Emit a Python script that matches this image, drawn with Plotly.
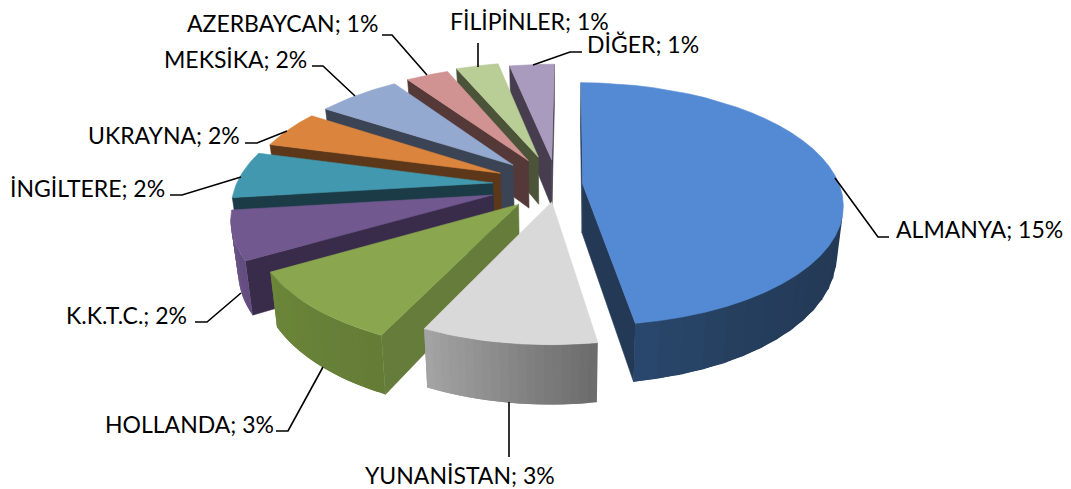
import math
import plotly.graph_objects as go

# ---- data ----
categories = ["ALMANYA", "YUNANİSTAN", "HOLLANDA", "K.K.T.C.", "İNGİLTERE",
              "UKRAYNA", "MEKSİKA", "AZERBAYCAN", "FİLİPİNLER", "DİĞER"]
values = [14.95, 3.0, 3.02, 2.04, 1.95, 1.58, 1.97, 1.0, 1.0, 1.05]

# ---- style ----
pulls = [0.10, 0.14, 0.215, 0.26, 0.25, 0.245, 0.245, 0.24, 0.255, 0.22]
radii = [0.995, 0.96, 0.98, 0.98, 0.995, 0.99, 0.99, 1.0, 1.0, 1.0]
top_colors = ["#548ad3", "#d9d9d9", "#8aa64f", "#71588f", "#4198af",
              "#db843d", "#93a9cf", "#d19392", "#b9cd96", "#a99bbd"]
cut_colors = ["#243955", "#6e6e6e", "#667c3a", "#392b4a", "#1b3c47",
              "#5c371a", "#3b4454", "#553838", "#4b5339", "#463e4f"]
arc_from = ["#2a4a70", "#a6a6a6", "#6b8639", "#6d5489", "#1b3c47",
            "#5c371a", "#3b4454", "#553838", "#4b5339", "#463e4f"]
arc_to = ["#233854", "#6c6c6c", "#657c37", "#644d80", "#1b3c47",
          "#5c371a", "#3b4454", "#553838", "#4b5339", "#463e4f"]
arc_power = [6, 1, 1, 1, 1, 1, 1, 1, 1, 1]
label_font = "Lato"
label_size = 23
START_ANGLE = 0.5

# ---- projection ----
CX, CY, R, RK, P, H, CONVERGE = 557, 185, 258, 119, 0.165, 49, 0.023


def project(gx, gy, z=0.0):
    f = 1 / (1 - P * gy)
    return CX + R * gx * f * (1 - CONVERGE * z), CY + RK * gy * f + z * H * f


def mix(a, b, t):
    ca = [int(a[i:i + 2], 16) for i in (1, 3, 5)]
    cb = [int(b[i:i + 2], 16) for i in (1, 3, 5)]
    return "rgb(%d,%d,%d)" % tuple(round(x + (y - x) * t) for x, y in zip(ca, cb))


fig = go.Figure()


def poly(pts, color, width=0.6):
    xs = [p[0] for p in pts] + [pts[0][0]]
    ys = [p[1] for p in pts] + [pts[0][1]]
    fig.add_trace(go.Scatter(x=xs, y=ys, mode="lines", fill="toself", fillcolor=color,
                             line=dict(color=color, width=width), hoverinfo="skip",
                             showlegend=False))


total = sum(values)
spans = []
acc = START_ANGLE
for v in values:
    spans.append((acc, acc + v / total * 360))
    acc += v / total * 360

for i in range(len(values) - 1, -1, -1):
    a0, a1 = spans[i]
    mid = math.radians((a0 + a1) / 2)
    ox, oy = pulls[i] * math.sin(mid), -pulls[i] * math.cos(mid)
    n = 36 if a1 - a0 > 60 else 20
    rim = []
    for k in range(n + 1):
        t = math.radians(a0 + (a1 - a0) * k / n)
        rim.append((ox + radii[i] * math.sin(t), oy - radii[i] * math.cos(t)))
    apex = (ox, oy)

    def wall(p, q, color):
        a, b = project(*p), project(*q)
        if b[0] < a[0]:
            poly([a, b, project(*q, 1), project(*p, 1)], color)

    wall(apex, rim[0], cut_colors[i])
    wall(rim[-1], apex, cut_colors[i])
    # outer wall: each strip overlaps the next one so that no seams show
    for k in range(n):
        p, q = rim[k], rim[k + 1]
        a, b = project(*p), project(*q)
        if b[0] < a[0]:
            q2 = rim[min(k + 2, n)]
            poly([a, project(*q2), project(*q2, 1), project(*p, 1)],
                 mix(arc_to[i], arc_from[i], (k / n) ** arc_power[i]), width=0)
    poly([project(*apex)] + [project(*p) for p in rim], top_colors[i])

# ---- leader lines and labels (page layout, in pixels) ----
leaders = [
    [(835, 178), (878, 237), (889, 237)],
    [(509, 402), (509, 457)],
    [(323, 367), (288, 431), (276, 431)],
    [(241, 293), (207, 322), (195, 322)],
    [(241, 177), (182, 195), (170, 195)],
    [(287, 131), (257, 143), (245, 143)],
    [(355, 96), (323, 66), (312, 66)],
    [(427, 75), (392, 35), (382, 35)],
    [(478, 67), (478, 43)],
    [(533, 65), (570, 52), (582, 52)],
]
label_centers = [(979, 229), (460, 475), (189, 424), (126, 315), (87, 188),
                 (164, 135), (235, 59), (282, 23), (529, 21), (643, 44)]

for name, v, path, (lx, ly) in zip(categories, values, leaders, label_centers):
    fig.add_trace(go.Scatter(x=[p[0] for p in path], y=[p[1] for p in path], mode="lines",
                             line=dict(color="#000000", width=1.6), hoverinfo="skip",
                             showlegend=False))
    fig.add_annotation(x=lx, y=ly, text=f"{name}; {round(v)}%", showarrow=False,
                       xanchor="center", yanchor="middle",
                       font=dict(family=label_font, size=label_size, color="#000000"))

fig.update_xaxes(visible=False, range=[0, 1071], fixedrange=True)
fig.update_yaxes(visible=False, range=[489, 0], fixedrange=True)
fig.update_layout(width=1071, height=489, margin=dict(l=0, r=0, t=0, b=0),
                  paper_bgcolor="#ffffff", plot_bgcolor="#ffffff", showlegend=False)
fig.write_html("out.html", post_script="document.body.style.margin='0';",
               config={"displayModeBar": False})
